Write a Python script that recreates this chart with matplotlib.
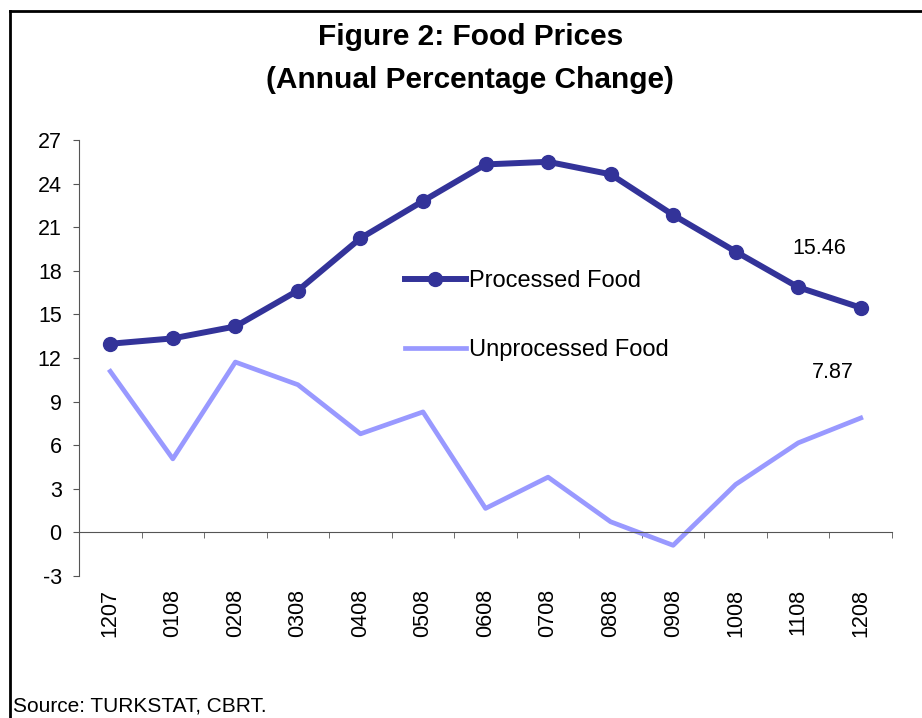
import matplotlib
matplotlib.use('Agg')
import matplotlib.pyplot as plt
from matplotlib.lines import Line2D

# data
months = ['1207', '0108', '0208', '0308', '0408', '0508', '0608',
          '0708', '0808', '0908', '1008', '1108', '1208']
processed = [12.98, 13.35, 14.17, 16.64, 20.24, 22.80, 25.32,
             25.50, 24.64, 21.84, 19.32, 16.87, 15.46]
unprocessed = [11.08, 5.06, 11.72, 10.16, 6.78, 8.29, 1.65,
               3.80, 0.73, -0.89, 3.30, 6.16, 7.87]
yticks = [-3, 0, 3, 6, 9, 12, 15, 18, 21, 24, 27]

plt.rcParams['font.family'] = ['Liberation Sans', 'DejaVu Sans']
plt.rcParams['axes.unicode_minus'] = False

fig = plt.figure(figsize=(9.22, 7.18), dpi=100)
ax = fig.add_axes([0.0857, 0.1978, 0.8818, 0.6072])

x = list(range(len(months)))
ax.plot(x, processed, color='#333399', lw=4.3, marker='o', ms=10,
        label='Processed Food', zorder=3)
ax.plot(x, unprocessed, color='#9999FF', lw=3.4, label='Unprocessed Food',
        zorder=2)

ax.set_xlim(-0.5, len(months) - 0.5)
ax.set_ylim(-3, 27)
ax.set_yticks(yticks)

axcol = '#555555'
for s in ['top', 'right']:
    ax.spines[s].set_visible(False)
ax.spines['left'].set_color(axcol)
ax.spines['bottom'].set_color(axcol)
ax.spines['bottom'].set_position(('data', 0))

# category labels sit below the plot, tick marks on the boundaries
ax.set_xticks(x)
ax.set_xticklabels(months, rotation=90, fontsize=15.5, va='top')
ax.tick_params(axis='x', which='major', length=0, pad=41)
ax.set_xticks([i - 0.5 for i in range(len(months) + 1)], minor=True)
ax.tick_params(axis='x', which='minor', length=4.5, direction='out',
               color=axcol)
ax.tick_params(axis='y', length=4.5, direction='out', color=axcol,
               labelsize=15.5, pad=8)

# last values
ax.annotate('15.46', (x[-1], processed[-1]), xytext=(-30, 42.5),
            textcoords='offset points', ha='center', va='center',
            fontsize=15.5)
ax.annotate('7.87', (x[-1], unprocessed[-1]), xytext=(-20, 32.5),
            textcoords='offset points', ha='center', va='center',
            fontsize=15.5)

leg = ax.legend(loc='center left', bbox_to_anchor=(0.439, 0.5606),
                bbox_transform=fig.transFigure, frameon=False,
                fontsize=17, labelspacing=2.0, handlelength=2.6,
                handletextpad=0.1, borderpad=0, borderaxespad=0)

fig.text(0.51, 1 - 37 / 718, 'Figure 2: Food Prices', ha='center',
         va='center', fontsize=21.5, fontweight='bold')
fig.text(0.51, 1 - 80 / 718, '(Annual Percentage Change)', ha='center',
         va='center', fontsize=21.5, fontweight='bold')
fig.text(13 / 922, 1 - 706 / 718, 'Source: TURKSTAT, CBRT.', ha='left',
         va='center', fontsize=15)

# outer frame (only top and left edges show in the original)
fig.add_artist(Line2D([10 / 922, 1.0], [1 - 11 / 718, 1 - 11 / 718],
                      color='black', lw=2, transform=fig.transFigure))
fig.add_artist(Line2D([10 / 922, 10 / 922], [0.0, 1 - 11 / 718],
                      color='black', lw=2, transform=fig.transFigure))

fig.savefig('out.png', dpi=100)
